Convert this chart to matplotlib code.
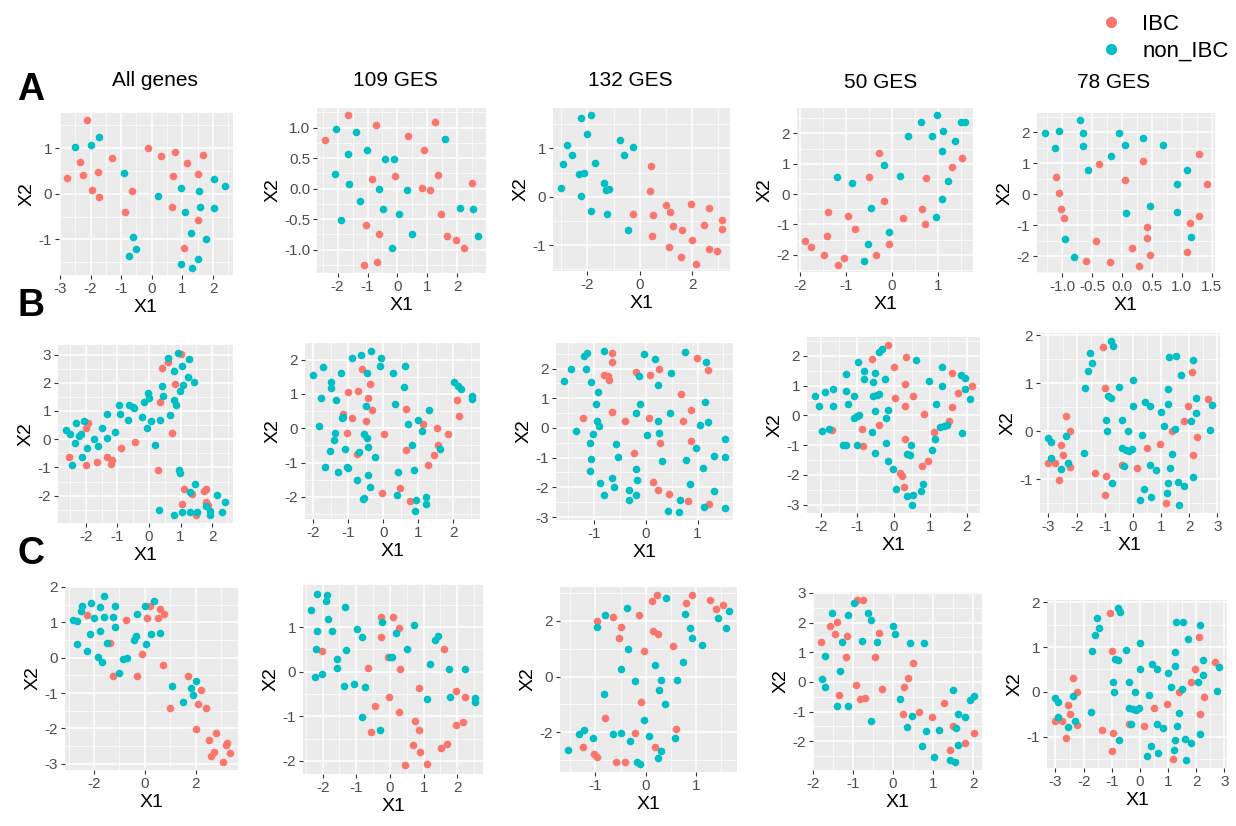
import numpy as np
import matplotlib
matplotlib.use("Agg")
import matplotlib.pyplot as plt
from matplotlib.ticker import MultipleLocator
from matplotlib.lines import Line2D

plt.rcParams['font.family'] = ['Liberation Sans', 'DejaVu Sans']
plt.rcParams['axes.unicode_minus'] = False

IBC_COLOR = '#F8766D'
NON_COLOR = '#00BFC4'

titles = ["All genes", "109 GES", "132 GES", "50 GES", "78 GES"]
row_labels = ["A", "B", "C"]
legend_labels = ["IBC", "non_IBC"]

# ---- row A ----
a1_ibc = [(-2.10, 1.61), (-2.77, 0.35), (-2.35, 0.69), (-2.25, 0.42), (-1.96, 0.09), (-1.76, 0.47),
          (-1.73, -0.06), (-1.29, 0.79), (-0.89, -0.39), (-0.64, 0.06), (-0.11, 1.00), (0.31, 0.82),
          (0.74, 0.92), (0.70, 0.40), (0.66, -0.28), (1.16, 0.67), (1.66, 0.85), (1.52, 0.43),
          (1.52, -0.57), (1.05, -1.18)]
a1_non = [(-2.50, 1.03), (-1.99, 1.06), (-1.73, 1.25), (-0.90, 0.45), (-0.61, -0.95), (-0.53, -1.22),
          (-0.73, -1.37), (0.21, -0.04), (0.94, 0.12), (1.08, -0.41), (1.53, 0.06), (1.57, -0.30),
          (2.03, 0.32), (2.39, 0.16), (2.02, -0.31), (1.29, -0.86), (1.77, -1.00), (1.49, -1.44),
          (0.94, -1.54), (1.32, -1.62)]

a2_ibc = [(-2.43, 0.79), (-1.65, 1.20), (-0.71, 1.04), (1.25, 1.09), (0.35, 0.87), (0.89, 0.64),
          (-0.85, 0.16), (-0.08, 0.20), (1.36, 0.22), (0.82, 0.01), (1.07, -0.03), (2.48, 0.09),
          (1.46, -0.42), (-1.04, -0.59), (-0.63, -0.75), (1.66, -0.78), (1.96, -0.85), (2.23, -0.98),
          (-1.11, -1.26), (-0.69, -1.20)]
a2_non = [(-2.04, 0.98), (-1.40, 0.93), (-1.65, 0.57), (-1.02, 0.64), (-0.42, 0.49), (-0.13, 0.49),
          (1.58, 0.81), (-2.09, 0.24), (-1.62, 0.07), (-0.60, -0.01), (0.31, -0.02), (-1.24, -0.21),
          (-0.47, -0.34), (0.05, -0.42), (-1.88, -0.51), (2.09, -0.31), (2.53, -0.34), (0.49, -0.74),
          (2.70, -0.78), (-0.17, -0.97)]

a3_ibc = [(0.43, 0.63), (0.38, 0.12), (-0.25, -0.35), (0.52, -0.37), (0.48, -0.82), (1.02, -0.18),
          (1.17, -0.31), (1.97, -0.14), (2.65, -0.24), (3.14, -0.48), (3.14, -0.67), (2.46, -0.58),
          (1.27, -0.61), (1.60, -0.69), (1.99, -0.90), (1.13, -1.03), (1.56, -1.24), (2.15, -1.38),
          (2.65, -1.08), (2.94, -1.11)]
a3_non = [(-2.24, 1.63), (-1.87, 1.68), (-2.03, 1.29), (-2.80, 1.07), (-2.60, 0.86), (-2.92, 0.67),
          (-2.33, 0.47), (-2.12, 0.49), (-1.72, 0.70), (-3.01, 0.18), (-2.26, 0.01), (-1.85, -0.29),
          (-1.26, -0.35), (-1.36, 0.29), (-1.29, 0.13), (-1.18, 0.16), (-0.74, 1.18), (-0.59, 0.86),
          (-0.25, 1.02), (-0.45, -0.69)]

a4_ibc = [(-0.28, 1.36), (1.53, 1.20), (1.31, 0.90), (-0.50, 0.56), (0.74, 0.52), (-0.17, -0.24),
          (-1.39, -0.58), (-0.96, -0.71), (0.66, -0.49), (0.25, -0.79), (0.72, -0.97), (-0.80, -1.16),
          (-1.42, -1.38), (-1.89, -1.56), (-1.77, -1.73), (-1.47, -1.99), (-1.04, -2.10), (-1.18, -2.32),
          (-0.07, -1.65), (-0.35, -1.99)]
a4_non = [(0.98, 2.59), (0.63, 2.38), (1.50, 2.38), (1.59, 2.38), (0.36, 1.92), (0.87, 1.92),
          (1.12, 2.09), (1.38, 1.75), (1.09, 1.41), (-0.17, 0.95), (0.18, 0.60), (-1.20, 0.56),
          (-0.87, 0.36), (1.23, 0.44), (1.09, -0.15), (-0.45, -0.45), (0.95, -0.75), (-0.06, -1.26),
          (-0.53, -1.64), (-0.61, -2.19)]

a5_ibc = [(-0.39, 0.99), (0.35, 1.09), (0.04, 0.48), (1.28, 1.30), (1.42, 0.33), (-1.10, 0.57),
          (-1.06, 0.05), (-1.02, -0.48), (-0.98, -0.77), (1.28, -0.69), (1.13, -0.93), (0.41, -1.05),
          (0.41, -1.40), (-0.43, -1.49), (0.16, -1.74), (0.46, -1.97), (1.09, -1.86), (-0.61, -2.14),
          (-0.20, -2.19), (0.29, -2.30)]
a5_non = [(-1.29, 1.98), (-1.06, 2.03), (-0.70, 2.39), (-0.66, 1.98), (-0.66, 1.55), (-1.12, 1.50),
          (-0.57, 0.80), (-0.18, 1.25), (-0.05, 1.98), (0.04, 1.59), (0.35, 1.82), (0.68, 1.59),
          (1.09, 0.80), (0.92, 0.33), (0.46, -0.36), (0.06, -0.61), (0.92, -0.56), (1.16, -1.37),
          (-0.95, -1.45), (-0.81, -2.03)]

# ---- row B ----
b1_ibc = [(-2.53, -0.64), (-1.98, -0.90), (-1.92, 0.57), (-2.00, 0.38), (-1.66, -0.81), (-1.34, -0.64),
          (-1.21, -0.86), (-1.17, -0.74), (-0.88, -0.31), (-0.44, -0.11), (0.35, 1.31), (0.41, 2.51),
          (0.60, 2.73), (0.81, 1.97), (0.74, 0.23), (1.03, 3.02), (0.30, -1.10), (1.10, -1.75),
          (1.06, -2.28), (1.35, -1.94), (1.75, -1.82), (1.81, -1.75), (1.81, -2.21), (1.88, -2.33),
          (1.50, -2.67)]
b1_non = [(-2.63, 0.33), (-2.49, 0.18), (-2.32, 0.57), (-2.06, 0.63), (-2.23, 0.12), (-2.14, 0.17),
          (-2.35, -0.15), (-1.96, -0.31), (-1.75, 0.00), (-1.61, -0.25), (-1.50, 0.38), (-1.32, 0.88),
          (-1.32, 0.05), (-1.09, 0.24), (-0.96, 1.21), (-0.92, 0.88), (-0.65, 0.68), (-0.63, 1.21),
          (-0.52, 1.15), (-0.47, 1.09), (-0.22, 0.78), (-0.15, 1.33), (-0.04, 1.63), (0.01, 1.47),
          (-0.07, 0.38), (0.06, 0.63), (0.18, -0.21), (0.34, 0.68), (0.43, 1.52), (0.42, 1.90),
          (0.66, 0.87), (0.61, 2.87), (0.78, 2.41), (0.91, 3.05), (1.06, 2.60), (1.26, 2.85),
          (1.23, 2.22), (1.44, 2.02), (0.78, 1.39), (0.86, 1.22), (0.98, 1.72), (1.08, 1.92),
          (-2.44, -0.90), (-2.13, -0.64), (0.94, -1.10), (0.99, -1.19), (1.47, -1.59), (1.31, -1.88),
          (2.16, -1.98), (2.41, -2.24), (2.30, -2.59), (1.80, -2.38), (1.92, -2.55), (0.33, -2.49),
          (0.78, -2.68), (1.05, -2.59), (1.31, -2.59), (1.53, -2.59), (1.93, -2.68)]

b2_ibc = [(-0.62, 1.73), (-1.01, 1.05), (-0.73, 1.09), (-0.39, 1.29), (-0.43, 0.88), (-0.32, 0.52),
          (-1.16, 0.41), (-0.90, 0.29), (-0.50, 0.21), (-1.05, -0.13), (0.02, -0.17), (-0.75, -0.74),
          (0.66, 0.56), (0.66, -0.64), (1.15, 0.13), (1.55, 0.00), (1.85, -0.17), (1.58, -0.48),
          (1.44, -0.77), (1.29, -1.08), (-0.03, -1.88), (0.48, -1.73), (0.77, -2.13), (2.10, 0.81),
          (2.18, 0.35)]
b2_non = [(-2.01, 1.55), (-1.71, 1.77), (-1.85, 0.08), (-1.78, 0.88), (-1.50, 1.34), (-1.50, 1.17),
          (-1.34, 0.81), (-1.20, 1.60), (-1.16, 0.34), (-1.17, 0.29), (-0.90, 2.04), (-0.65, 2.14),
          (-0.35, 2.25), (-0.06, 2.04), (-0.10, 1.80), (-0.47, 1.61), (0.27, 1.60), (0.63, 1.80),
          (0.60, 1.20), (-0.50, 0.64), (0.35, 0.72), (-1.38, -0.13), (-1.41, -0.35), (-1.53, -0.65),
          (-1.09, -0.60), (-1.67, -1.12), (-1.04, -1.12), (-1.01, -1.16), (-1.28, -1.28), (-0.76, -1.50),
          (-0.69, -0.68), (-0.54, -0.17), (-0.47, -0.29), (-0.43, -0.55), (-0.24, -0.83), (-0.43, -1.36),
          (-0.37, -1.72), (-0.54, -2.03), (-0.58, -2.07), (0.71, 0.12), (1.00, 0.23), (1.11, -0.09),
          (1.30, 0.52), (0.83, -0.49), (1.63, -0.60), (0.41, -1.28), (0.89, -1.21), (0.38, -1.93),
          (0.93, -2.10), (0.92, -2.41), (1.22, -2.01), (1.22, -2.20), (2.02, 1.34), (2.15, 1.24),
          (2.22, 1.15), (2.54, 0.95), (2.54, 0.85)]

b3_ibc = [(-0.66, 2.54), (-0.66, 2.21), (-0.80, 1.79), (-0.73, 1.74), (-0.71, 1.60), (-0.18, 1.90),
          (0.09, 1.79), (0.25, 1.99), (-0.65, 0.53), (-1.21, 0.34), (-0.41, 0.22), (0.07, 0.35),
          (0.28, -0.50), (-0.22, -0.83), (0.69, 1.15), (0.87, 0.59), (0.71, 0.22), (0.87, -0.44),
          (0.99, 2.37), (1.20, 1.94), (0.14, -1.83), (0.24, -2.10), (0.44, -2.23), (0.81, -2.47),
          (1.22, -2.57)]
b3_non = [(-1.58, 1.57), (-1.45, 1.99), (-1.19, 2.43), (-1.13, 2.51), (-1.15, 1.99), (-1.05, 1.55),
          (-0.92, 1.22), (-0.97, 0.81), (-0.80, 2.59), (-0.94, 0.22), (-0.90, 0.06), (-1.35, -0.09),
          (-1.03, -0.22), (-1.08, -0.50), (-1.05, -1.06), (-1.08, -1.44), (-0.58, -0.55), (-0.53, -0.97),
          (-0.88, -1.86), (-0.80, -2.27), (-0.65, -1.70), (-0.62, -1.99), (-0.33, -2.10), (-0.33, -2.43),
          (-0.18, -2.25), (-0.18, -1.38), (-0.17, -1.75), (-0.18, 0.50), (-0.13, 1.75), (-0.11, 0.82),
          (-0.03, 2.49), (0.02, -0.25), (0.17, 2.32), (0.24, 0.22), (0.25, -0.17), (0.24, 1.46),
          (0.49, 1.85), (0.47, 0.50), (0.32, -1.11), (0.75, 2.56), (0.77, -1.07), (0.97, -0.69),
          (0.85, -1.90), (0.42, -2.79), (0.67, -2.43), (0.64, -2.83), (1.15, 0.88), (1.17, 2.21),
          (1.21, 0.21), (1.05, 0.10), (1.10, -1.35), (1.32, -0.93), (1.53, -0.37), (1.53, -0.97),
          (1.32, -2.14), (1.12, -2.65), (1.53, -2.71)]

b4_ibc = [(-0.15, 2.36), (-0.60, 1.90), (0.00, 1.63), (0.32, 1.95), (0.30, 1.05), (0.03, 0.59),
          (0.30, 0.32), (0.52, 0.65), (0.82, 0.05), (-0.40, -0.33), (-0.87, -0.46), (-0.85, -1.02),
          (-1.71, -0.49), (0.30, -0.79), (0.16, -1.92), (0.23, -2.05), (0.28, -2.41), (0.77, -1.71),
          (0.93, -1.54), (1.10, -0.55), (1.51, -0.19), (1.59, 0.27), (1.59, 1.43), (1.77, 0.74),
          (2.15, 0.99)]
b4_non = [(-2.17, 0.66), (-2.07, 0.32), (-1.90, 0.78), (-1.68, 0.87), (-1.68, 0.32), (-1.98, -0.54),
          (-1.79, -0.46), (-1.31, 1.40), (-1.31, 0.82), (-1.27, 0.38), (-1.09, 0.65), (-1.10, -0.10),
          (-1.00, -0.02), (-0.95, 0.01), (-1.41, -1.01), (-1.32, -0.98), (-1.00, -0.98), (-0.99, 1.80),
          (-0.81, 1.48), (-0.81, 1.21), (-0.58, 1.13), (-0.53, 1.43), (-0.58, 0.64), (-0.47, 0.67),
          (-0.41, 0.71), (-0.53, 0.13), (-0.60, -0.57), (-0.53, -1.25), (-0.40, 2.14), (-0.32, 2.21),
          (-0.25, 1.21), (-0.17, 0.19), (-0.22, -0.10), (-0.22, -0.93), (-0.15, -1.54), (-0.02, -1.81),
          (0.05, -2.47), (0.60, 1.84), (0.96, 1.15), (0.35, -1.29), (0.44, -1.34), (0.48, -0.98),
          (0.37, -2.71), (0.53, -2.68), (0.51, -3.01), (0.75, -2.53), (0.79, -2.31), (1.06, -1.18),
          (1.14, -0.78), (1.15, 0.38), (1.31, 1.00), (1.32, 1.62), (1.27, -0.38), (1.38, -0.35),
          (1.45, -0.32), (1.85, 1.34), (1.96, 1.24), (1.95, 0.88), (2.08, 0.55), (1.88, -0.60)]

# "78 GES" panels of rows B and C show the same layout
ges78_ibc = [(-3.01, -0.65), (-2.78, -0.65), (-2.56, -0.29), (-2.48, -0.50), (-2.38, 0.32), (-2.23, 0.00),
             (-2.25, -0.75), (-2.61, -1.02), (-1.07, 1.75), (-1.00, 0.91), (-1.35, -0.86), (-0.95, -0.93),
             (-0.98, -1.32), (-0.38, -0.71), (0.13, -0.76), (0.51, -0.35), (0.95, -0.27), (1.40, 0.00),
             (1.16, -1.50), (1.83, 0.21), (1.96, 0.52), (2.09, 1.23), (2.14, -0.50), (2.28, -0.12),
             (2.66, 0.67)]
ges78_non = [(-3.01, -0.13), (-2.91, -0.22), (-2.91, -0.56), (-2.56, -0.78), (-2.38, -0.09), (-2.30, -0.65),
             (-1.71, 0.91), (-1.60, 1.26), (-1.53, 1.64), (-1.44, 1.43), (-1.74, -0.44), (-0.78, 1.88),
             (-0.72, 1.79), (-0.89, 0.74), (-0.77, 0.70), (-0.95, 0.23), (-0.91, 0.00), (-0.74, -1.08),
             (-0.49, 0.93), (-0.40, -0.35), (-0.38, 0.23), (-0.33, -0.72), (-0.26, -0.39), (-0.18, 0.00),
             (0.00, 1.08), (0.00, 0.52), (-0.05, -0.37), (-0.14, -0.41), (0.25, -1.43), (0.33, -0.07),
             (0.39, -1.20), (0.43, 0.62), (0.60, 0.52), (0.60, -0.71), (0.65, -1.37), (0.82, -0.80),
             (1.01, 0.41), (1.10, 0.11), (1.26, 0.89), (1.27, 1.55), (1.26, 0.58), (1.21, -1.29),
             (1.26, -1.08), (1.32, -0.76), (1.40, -0.47), (1.48, 0.06), (1.54, 1.57), (1.60, -1.06),
             (1.63, -1.53), (1.72, 1.17), (1.83, -1.14), (2.05, 0.21), (2.14, 1.49), (2.14, -0.94),
             (2.23, 0.38), (2.23, 0.70), (2.72, 0.02), (2.80, 0.55)]

# ---- row C ----
c1_ibc = [(-2.27, 1.20), (-1.36, 0.42), (-1.26, -0.51), (-0.75, 1.08), (-0.30, -0.51), (-0.12, 0.10),
          (0.10, 1.11), (0.19, 1.47), (0.51, 1.11), (0.61, 1.38), (0.75, 1.25), (0.70, -0.21),
          (1.70, -0.51), (1.00, -1.43), (2.21, -0.91), (2.09, -1.31), (2.40, -1.43), (2.01, -2.02),
          (2.52, -2.33), (2.81, -2.12), (2.62, -2.78), (2.71, -2.66), (3.06, -2.94), (3.19, -2.48),
          (3.25, -2.40), (3.36, -2.69)]
c1_non = [(-2.83, 1.08), (-2.68, 1.05), (-2.52, 1.33), (-2.47, 1.47), (-2.12, 1.54), (-1.75, 1.44),
          (-1.62, 1.75), (-2.01, 1.12), (-1.62, 1.16), (-1.26, 1.16), (-1.16, 1.47), (-1.16, 0.88),
          (-2.17, 0.67), (-1.77, 0.76), (-2.66, 0.39), (-2.27, 0.19), (-1.83, 0.03), (-1.68, -0.11),
          (-1.47, 0.43), (-0.87, -0.04), (-0.71, -0.01), (-1.01, -0.43), (-0.43, 0.51), (-0.36, 0.62),
          (-0.30, 1.23), (-0.01, 1.47), (0.38, 1.60), (0.05, 0.39), (0.25, 0.67), (0.60, 0.71),
          (1.09, -0.79), (1.49, -1.25), (1.83, -0.87), (1.90, -1.04), (2.03, -0.67)]

c2_ibc = [(-2.02, 0.47), (-0.64, 0.09), (-0.28, 1.23), (-0.28, 0.78), (0.08, 1.22), (0.27, 0.99),
          (-0.05, 0.32), (0.31, 0.06), (-0.43, -0.77), (-0.04, -0.57), (0.27, -0.90), (-0.56, -1.36),
          (0.86, -0.36), (0.73, -1.10), (0.86, -1.30), (0.69, -1.64), (0.90, -1.80), (0.46, -2.10),
          (1.10, -2.06), (1.60, 0.50), (1.96, -0.44), (2.24, -0.56), (2.16, -1.13), (1.95, -1.20),
          (1.68, -1.61), (1.52, -1.70)]
c2_non = [(-2.34, 1.38), (-2.17, 1.75), (-1.88, 1.71), (-1.89, 1.58), (-1.85, 1.19), (-2.16, 0.92),
          (-1.73, 0.92), (-1.35, 1.45), (-2.20, 0.51), (-1.57, 0.29), (-1.56, 0.09), (-2.22, -0.12),
          (-2.01, -0.05), (-1.30, 0.49), (-1.38, -0.31), (-1.08, -0.28), (-0.99, 0.95), (-0.83, 0.78),
          (-0.74, -0.35), (-0.83, -1.01), (-0.31, -1.31), (-0.24, 1.12), (0.00, 0.32), (0.06, 0.32),
          (0.19, 0.86), (0.50, 0.51), (0.72, 1.04), (1.11, -0.62), (1.19, 0.18), (1.34, 0.71),
          (1.42, 0.81), (1.76, 0.06), (1.79, -0.57), (2.24, 0.06), (2.52, -0.60), (2.52, -0.68)]

c3_ibc = [(-0.97, 1.98), (-0.64, 2.13), (-0.50, 1.77), (-0.52, 1.39), (-0.14, 2.19), (-0.04, 0.92),
          (0.13, 2.70), (0.23, 2.91), (0.15, 1.63), (0.25, 1.51), (0.54, 1.08), (0.79, 2.64),
          (0.92, 2.91), (1.28, 2.76), (1.40, 2.43), (1.54, 2.55), (-0.09, -0.90), (-0.81, -1.47),
          (0.61, -1.89), (-0.22, -2.01), (0.19, -2.51), (-1.25, -2.51), (-1.02, -2.76), (-0.97, -2.87),
          (-0.58, -3.08), (-0.42, -3.08)]
c3_non = [(-0.80, 2.19), (-0.97, 1.77), (-0.38, 2.45), (-0.35, 0.98), (0.40, 2.81), (0.77, 2.26),
          (0.87, 1.73), (0.92, 1.37), (1.11, 1.13), (1.44, 2.09), (1.65, 2.34), (1.60, 1.73),
          (-0.50, 0.28), (0.19, 0.41), (0.74, 0.52), (0.30, -0.11), (0.62, -0.11), (-0.22, -0.17),
          (0.27, -0.48), (0.38, -1.00), (-0.83, -0.62), (-0.04, -1.57), (-1.54, -2.62), (-1.33, -2.05),
          (-1.23, -1.90), (-1.05, -2.20), (-0.64, -2.05), (-0.50, -2.01), (-0.32, -2.31), (0.07, -2.14),
          (0.58, -2.20), (0.30, -2.67), (0.25, -2.93), (-0.17, -3.08), (-0.11, -3.12)]

c4_ibc = [(-1.81, 1.36), (-1.58, 1.87), (-1.46, 1.60), (-1.39, 2.01), (-1.14, 1.54), (-1.18, 0.83),
          (-0.91, 2.76), (-0.74, 2.76), (-0.34, 1.64), (-0.46, 0.83), (0.50, 0.63), (0.37, 0.12),
          (0.28, -0.16), (-0.28, -0.25), (-0.93, -0.11), (-0.83, -0.57), (-0.70, -0.53), (-1.34, -0.44),
          (0.25, -1.10), (0.65, -1.01), (0.97, -1.19), (1.27, -0.72), (1.50, -1.50), (1.43, -2.29),
          (1.80, -2.05), (2.03, -1.72)]
c4_non = [(-1.53, 2.34), (-1.12, 2.25), (-0.98, 2.67), (-0.63, 2.34), (-0.56, 2.10), (-1.70, 0.89),
          (-1.78, 0.11), (-1.71, -0.16), (-1.28, 1.36), (-1.33, 0.36), (-1.39, -0.81), (-1.12, -0.81),
          (-0.78, 1.39), (-0.40, 1.36), (-0.56, -1.33), (0.00, 1.87), (0.06, 1.60), (0.17, -0.57),
          (0.41, 1.30), (0.78, 1.30), (0.47, -1.14), (0.34, -1.53), (0.81, -1.66), (0.73, -2.18),
          (1.02, -2.53), (1.15, -1.63), (1.49, -0.29), (1.61, -1.09), (1.80, -1.19), (1.58, -1.56),
          (1.61, -2.13), (1.43, -2.62), (1.54, -2.70), (1.92, -0.62), (2.01, -0.49)]

# tick positions per panel (row by row)
panel_data = [
    [(a1_ibc, a1_non, [-3, -2, -1, 0, 1, 2], [-1, 0, 1]),
     (a2_ibc, a2_non, [-2, -1, 0, 1, 2], [-1.0, -0.5, 0.0, 0.5, 1.0]),
     (a3_ibc, a3_non, [-2, 0, 2], [-1, 0, 1]),
     (a4_ibc, a4_non, [-2, -1, 0, 1], [-2, -1, 0, 1, 2]),
     (a5_ibc, a5_non, [-1.0, -0.5, 0.0, 0.5, 1.0, 1.5], [-2, -1, 0, 1, 2])],
    [(b1_ibc, b1_non, [-2, -1, 0, 1, 2], [-2, -1, 0, 1, 2, 3]),
     (b2_ibc, b2_non, [-2, -1, 0, 1, 2], [-2, -1, 0, 1, 2]),
     (b3_ibc, b3_non, [-1, 0, 1], [-3, -2, -1, 0, 1, 2]),
     (b4_ibc, b4_non, [-2, -1, 0, 1, 2], [-3, -2, -1, 0, 1, 2]),
     (ges78_ibc, ges78_non, [-3, -2, -1, 0, 1, 2, 3], [-1, 0, 1, 2])],
    [(c1_ibc, c1_non, [-2, 0, 2], [-3, -2, -1, 0, 1, 2]),
     (c2_ibc, c2_non, [-2, -1, 0, 1, 2], [-2, -1, 0, 1]),
     (c3_ibc, c3_non, [-1, 0, 1], [-2, 0, 2]),
     (c4_ibc, c4_non, [-2, -1, 0, 1, 2], [-2, -1, 0, 1, 2, 3]),
     (ges78_ibc, ges78_non, [-3, -2, -1, 0, 1, 2, 3], [-1, 0, 1, 2])],
]

# panel boxes in pixels: left, top, right, bottom
W, H = 1236, 826
boxes = [
    [(59, 113, 233, 275), (317, 108, 486, 273), (553, 108, 730, 271), (797, 108, 973, 272), (1037, 113, 1215, 273)],
    [(58, 345, 233, 523), (305, 343, 480, 519), (556, 343, 733, 520), (807, 337, 980, 513), (1040, 333, 1220, 513)],
    [(65, 587, 238, 770), (303, 585, 483, 774), (560, 587, 737, 772), (813, 592, 982, 770), (1047, 600, 1227, 768)],
]
title_pos = [(155, 80), (395, 80), (630, 80), (881, 83), (1114, 83)]
row_label_pos = [(31, 90), (31, 306), (31, 554)]


def fmt(v, ticks):
    if all(float(t).is_integer() for t in ticks):
        return "%d" % v
    return "%.1f" % v


fig = plt.figure(figsize=(12.36, 8.26), dpi=100)

for r, row in enumerate(panel_data):
    for c, (ibc, non, xt, yt) in enumerate(row):
        l, t, rr, b = boxes[r][c]
        ax = fig.add_axes([l / W, 1 - b / H, (rr - l) / W, (b - t) / H])
        ax.set_facecolor('#EBEBEB')
        ibc = np.array(ibc)
        non = np.array(non)
        ax.scatter(ibc[:, 0], ibc[:, 1], s=30, color=IBC_COLOR, linewidths=0, zorder=3)
        ax.scatter(non[:, 0], non[:, 1], s=30, color=NON_COLOR, linewidths=0, zorder=3)

        allp = np.vstack([ibc, non])
        for lo, hi, setter in [(allp[:, 0].min(), allp[:, 0].max(), ax.set_xlim),
                               (allp[:, 1].min(), allp[:, 1].max(), ax.set_ylim)]:
            pad = 0.05 * (hi - lo)
            setter(lo - pad, hi + pad)

        ax.set_xticks(xt)
        ax.set_xticklabels([fmt(v, xt) for v in xt])
        ax.set_yticks(yt)
        ax.set_yticklabels([fmt(v, yt) for v in yt])
        ax.xaxis.set_minor_locator(MultipleLocator((xt[1] - xt[0]) / 2))
        ax.yaxis.set_minor_locator(MultipleLocator((yt[1] - yt[0]) / 2))
        ax.grid(which='major', color='white', linewidth=1.1, zorder=0)
        ax.grid(which='minor', color='white', linewidth=0.5, zorder=0)
        ax.set_axisbelow(True)
        for sp in ax.spines.values():
            sp.set_visible(False)
        ax.tick_params(which='major', direction='out', length=3, width=0.8, color='#333333',
                       labelcolor='#4D4D4D', labelsize=11, pad=2)
        ax.tick_params(which='minor', length=0)
        ax.set_xlabel('X1', fontsize=14, labelpad=2)
        ax.set_ylabel('X2', fontsize=14, labelpad=2)

for (x, y), txt in zip(title_pos, titles):
    fig.text(x / W, 1 - y / H, txt, fontsize=15, ha='center', va='center')

for (x, y), txt in zip(row_label_pos, row_labels):
    fig.text(x / W, 1 - y / H, txt, fontsize=27, fontweight='bold', ha='center', va='center')

handles = [Line2D([], [], marker='o', ls='', color=IBC_COLOR, markersize=7),
           Line2D([], [], marker='o', ls='', color=NON_COLOR, markersize=7)]
fig.legend(handles, legend_labels, loc='upper left', bbox_to_anchor=(1080 / W, 1 + 6 / H),
           frameon=False, fontsize=16, handlelength=1.0, handletextpad=0.9, labelspacing=0.25)

fig.savefig('out.png', dpi=100)
